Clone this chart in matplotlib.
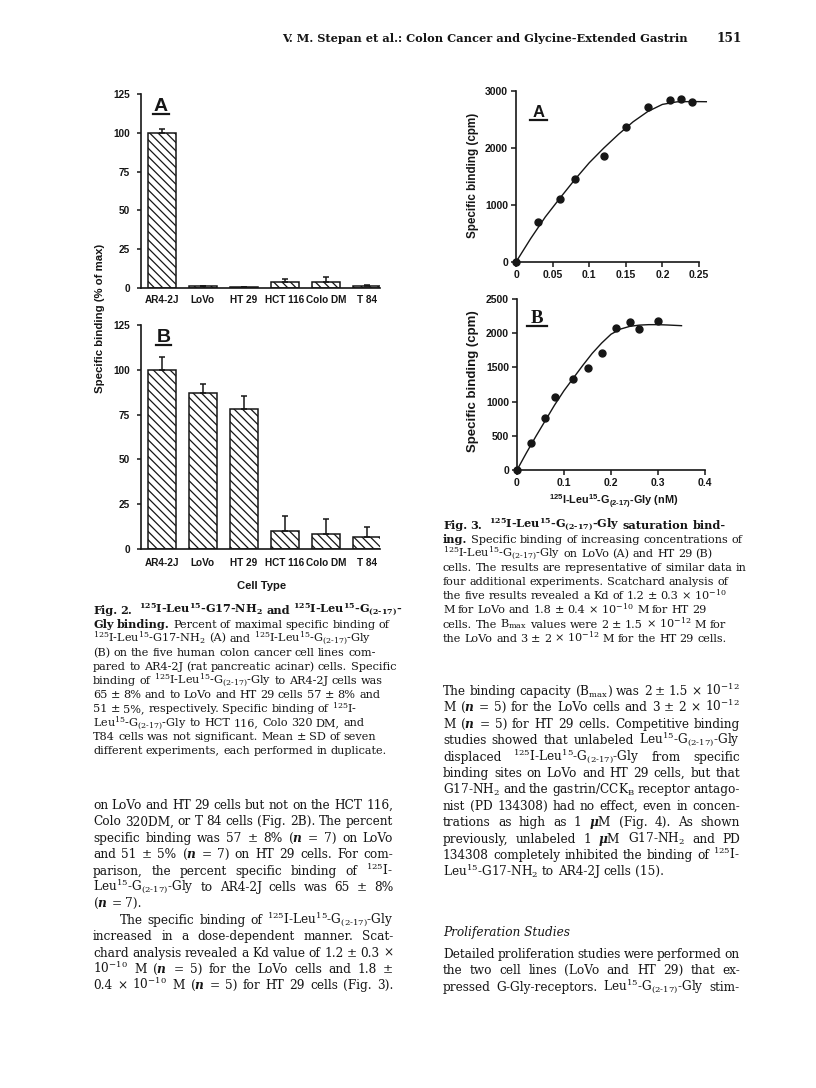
import matplotlib
matplotlib.use("Agg")
import matplotlib.pyplot as plt
from matplotlib.lines import Line2D

W, H = 816, 1088
INK = "#161616"
SERIF = "DejaVu Serif"

plt.rcParams["font.family"] = "Liberation Sans"
plt.rcParams["font.weight"] = "bold"
plt.rcParams["mathtext.fontset"] = "custom"
plt.rcParams["mathtext.rm"] = "DejaVu Serif"
plt.rcParams["mathtext.it"] = "DejaVu Serif:italic"
plt.rcParams["mathtext.bf"] = "DejaVu Serif:bold"
plt.rcParams["mathtext.default"] = "regular"
plt.rcParams["hatch.linewidth"] = 0.9

# ---- Fig. 2 data (percent of max specific binding) ----
cells = ["AR4-2J", "LoVo", "HT 29", "HCT 116", "Colo DM", "T 84"]
bind_a = [100, 1.0, 0.5, 3.9, 4.0, 1.2]
err_a = [2.5, 0, 0, 2.0, 3.0, 0.5]
bind_b = [100, 87, 78, 9.8, 8.4, 6.5]
err_b = [7.0, 5.0, 7.5, 8.5, 8.3, 6.0]
pct_ticks = [0, 25, 50, 75, 100, 125]

# ---- Fig. 3 data (saturation binding, cpm vs nM) ----
conc_lovo = [0, 0.03, 0.06, 0.08, 0.12, 0.15, 0.18, 0.21, 0.225, 0.24]
cpm_lovo = [0, 700, 1110, 1455, 1860, 2370, 2725, 2850, 2865, 2810]
fit_x_lovo = [0, 0.02, 0.04, 0.06, 0.08, 0.10, 0.12, 0.14, 0.16, 0.18, 0.20, 0.22, 0.24, 0.26]
fit_y_lovo = [0, 410, 790, 1120, 1440, 1740, 2000, 2240, 2460, 2640, 2765, 2810, 2815, 2812]

conc_ht29 = [0, 0.03, 0.06, 0.08, 0.12, 0.15, 0.18, 0.21, 0.24, 0.26, 0.30]
cpm_ht29 = [0, 395, 755, 1060, 1330, 1495, 1710, 2075, 2160, 2065, 2175]
fit_x_ht29 = [0, 0.02, 0.04, 0.06, 0.08, 0.10, 0.12, 0.14, 0.16, 0.18, 0.20, 0.22, 0.24, 0.26, 0.28, 0.30, 0.32, 0.35]
fit_y_ht29 = [0, 250, 490, 720, 950, 1160, 1345, 1530, 1705, 1855, 1985, 2060, 2100, 2118, 2125, 2125, 2120, 2110]

x_ticks_a = [0, 0.05, 0.1, 0.15, 0.2, 0.25]
x_labels_a = ["0", "0.05", "0.1", "0.15", "0.2", "0.25"]
y_ticks_a = [0, 1000, 2000, 3000]
x_ticks_b = [0, 0.1, 0.2, 0.3, 0.4]
x_labels_b = ["0", "0.1", "0.2", "0.3", "0.4"]
y_ticks_b = [0, 500, 1000, 1500, 2000, 2500]

PEP = "$^{125}$I-Leu$^{15}$-G$_{(2‐17)}$-Gly"
GG = "Leu$^{15}$-G$_{(2‐17)}$-Gly"
N = "$\\mathit{n}$"

header = "V. M. Stepan et al.: Colon Cancer and Glycine-Extended Gastrin"

cap2 = [
    "*Fig. *2.  *$^{125}$I-Leu$^{15}$-G17-NH$_2$ *and *$^{125}$I-Leu$^{15}$-G$_{(2‐17)}$-",
    "*Gly *binding. Percent of maximal specific binding of",
    "$^{125}$I-Leu$^{15}$-G17-NH$_2$ (A) and " + PEP,
    "(B) on the five human colon cancer cell lines com-",
    "pared to AR4-2J (rat pancreatic acinar) cells. Specific",
    "binding of " + PEP + " to AR4-2J cells was",
    "65 ± 8% and to LoVo and HT 29 cells 57 ± 8% and",
    "51 ± 5%, respectively. Specific binding of $^{125}$I-",
    GG + " to HCT 116, Colo 320 DM, and",
    "T84 cells was not significant. Mean ± SD of seven",
    "different experiments, each performed in duplicate.",
]

cap3 = [
    "*Fig. *3.  *" + PEP + " *saturation *bind-",
    "*ing. Specific binding of increasing concentrations of",
    PEP + " on LoVo (A) and HT 29 (B)",
    "cells. The results are representative of similar data in",
    "four additional experiments. Scatchard analysis of",
    "the five results revealed a Kd of 1.2 ± 0.3 × 10$^{-10}$",
    "M for LoVo and 1.8 ± 0.4 × 10$^{-10}$ M for HT 29",
    "cells. The B$_{max}$ values were 2 ± 1.5 × 10$^{-12}$ M for",
    "the LoVo and 3 ± 2 × 10$^{-12}$ M for the HT 29 cells.",
]

left_p1 = [
    "on LoVo and HT 29 cells but not on the HCT 116,",
    "Colo 320DM, or T 84 cells (Fig. 2B). The percent",
    "specific binding was 57 ± 8% (" + N + " = 7) on LoVo",
    "and 51 ± 5% (" + N + " = 7) on HT 29 cells. For com-",
    "parison, the percent specific binding of $^{125}$I-",
    GG + " to AR4-2J cells was 65 ± 8%",
    "(" + N + " = 7).",
]
left_p2 = [
    "The specific binding of " + PEP,
    "increased in a dose-dependent manner. Scat-",
    "chard analysis revealed a Kd value of 1.2 ± 0.3 ×",
    "10$^{-10}$ M (" + N + " = 5) for the LoVo cells and 1.8 ±",
    "0.4 × 10$^{-10}$ M (" + N + " = 5) for HT 29 cells (Fig. 3).",
]
right_p1 = [
    "The binding capacity (B$_{max}$) was 2 ± 1.5 × 10$^{-12}$",
    "M (" + N + " = 5) for the LoVo cells and 3 ± 2 × 10$^{-12}$",
    "M (" + N + " = 5) for HT 29 cells. Competitive binding",
    "studies showed that unlabeled " + GG,
    "displaced " + PEP + " from specific",
    "binding sites on LoVo and HT 29 cells, but that",
    "G17-NH$_2$ and the gastrin/CCK$_B$ receptor antago-",
    "nist (PD 134308) had no effect, even in concen-",
    "trations as high as 1 $\\mathit{\\mu}$M (Fig. 4). As shown",
    "previously, unlabeled 1 $\\mathit{\\mu}$M G17-NH$_2$ and PD",
    "134308 completely inhibited the binding of $^{125}$I-",
    "Leu$^{15}$-G17-NH$_2$ to AR4-2J cells (15).",
]
heading = "Proliferation Studies"
right_p2 = [
    "Detailed proliferation studies were performed on",
    "the two cell lines (LoVo and HT 29) that ex-",
    "pressed G-Gly-receptors. " + GG + " stim-",
]

fig = plt.figure(figsize=(W / 100, H / 100), dpi=100)
fig.patch.set_facecolor("white")
renderer = fig.canvas.get_renderer()


def px_axes(l, t, r, b):
    return fig.add_axes([l / W, 1 - b / H, (r - l) / W, (b - t) / H])


def ftext(x, y, s, **kw):
    return fig.text(x / W, 1 - y / H, s, color=INK, **kw)


def clean(ax):
    for s in ("top", "right"):
        ax.spines[s].set_visible(False)
    for s in ("left", "bottom"):
        ax.spines[s].set_linewidth(1.2)
        ax.spines[s].set_color(INK)
    ax.set_facecolor("none")


def bar_panel(ax, vals, errs, xpad):
    pos = list(range(len(cells)))
    ax.bar(pos, vals, 0.69, color="white", edgecolor=INK, linewidth=1.1,
           hatch="\\\\\\\\")
    ax.errorbar(pos, vals, yerr=[[0] * len(errs), errs], fmt="none",
                ecolor=INK, elinewidth=1.1, capsize=2.5, capthick=1.1)
    ax.set_xlim(-0.51, 5.32)
    ax.set_ylim(0, 125)
    ax.set_yticks(pct_ticks)
    ax.set_xticks(pos, cells)
    ax.tick_params(axis="x", length=0, pad=xpad, labelsize=7.2, colors=INK)
    ax.tick_params(axis="y", length=3, width=1.1, pad=4.9, labelsize=7.2, colors=INK)
    clean(ax)


def sat_panel(ax, xs, ys, fx, fy, xmax, ymax, xt, xl, yt):
    ax.plot(fx, fy, color=INK, lw=1.0, clip_on=False)
    ax.plot(xs, ys, "o", color=INK, ms=5, clip_on=False)
    ax.set_xlim(0, xmax)
    ax.set_ylim(0, ymax)
    ax.set_xticks(xt, xl)
    ax.set_yticks(yt, [str(v) for v in yt])
    ax.tick_params(length=3.5, width=1.1, pad=2.2, labelsize=7.5, colors=INK)
    clean(ax)


def letter(x, y, s, size, family, x0, x1, uy):
    ftext(x, y, s, fontsize=size, fontweight="bold", family=family,
          ha="center", va="baseline")
    fig.add_artist(Line2D([x0 / W, x1 / W], [1 - uy / H, 1 - uy / H],
                          color=INK, lw=1.6))


def words(ln, x0, x1, y, size, justify=True, style="normal"):
    toks = ln.split(" ")
    if justify:
        toks = [t for t in toks if t]
    objs = []
    for tk in toks:
        if not tk:
            objs.append(None)
            continue
        bold = tk.startswith("*")
        objs.append(ftext(0, y, tk[1:] if bold else tk, fontsize=size,
                          family=SERIF, style=style,
                          fontweight="bold" if bold else "normal", va="baseline"))
    wid = [o.get_window_extent(renderer).width if o else 0 for o in objs]
    gap = size * 100 / 72 * 0.3
    real = [o for o in objs if o]
    if justify and len(real) > 1:
        gap = max((x1 - x0 - sum(wid)) / (len(real) - 1), gap * 0.6)
    x = x0
    for o, w in zip(objs, wid):
        if o:
            o.set_x(x / W)
        x += w + gap


def block(lines, x0, x1, y0, step, size, justify=True, last_free=True, indent=0):
    for i, ln in enumerate(lines):
        free = (not justify) or (last_free and i == len(lines) - 1)
        words(ln, x0 + (indent if i == 0 else 0), x1, y0 + i * step, size,
              justify=not free)


# ---- Fig. 2 ----
ax2a = px_axes(141, 94, 380, 288)
bar_panel(ax2a, bind_a, err_a, 4.8)
ax2b = px_axes(141, 325, 380, 549)
bar_panel(ax2b, bind_b, err_b, 6.2)
letter(161, 111, "A", 14, "Liberation Sans", 153, 169, 114)
letter(163.5, 342, "B", 14, "Liberation Sans", 156, 171, 345)
ftext(100, 318, "Specific binding (% of max)", rotation=90, ha="center",
      va="center", fontsize=8.2)
ftext(262, 586, "Cell Type", ha="center", va="center", fontsize=8.1)

# ---- Fig. 3 ----
ax3a = px_axes(516, 91, 699, 262)
sat_panel(ax3a, conc_lovo, cpm_lovo, fit_x_lovo, fit_y_lovo, 0.25, 3000,
          x_ticks_a, x_labels_a, y_ticks_a)
ax3b = px_axes(517, 299, 705, 470)
sat_panel(ax3b, conc_ht29, cpm_ht29, fit_x_ht29, fit_y_ht29, 0.4, 2500,
          x_ticks_b, x_labels_b, y_ticks_b)
letter(538.5, 117, "A", 12, "Liberation Sans", 530, 547, 119.5)
letter(536.5, 323, "B", 13.5, "Liberation Serif", 527, 547, 326)
ftext(473, 175, "Specific binding (cpm)", rotation=90, ha="center",
      va="center", fontsize=8.4)
ftext(473, 381, "Specific binding (cpm)", rotation=90, ha="center",
      va="center", fontsize=9.5)
ftext(614, 502, PEP + " (nM)", ha="center", va="center", fontsize=7.8)

# ---- page text ----
ftext(688, 42, header, ha="right", va="baseline", fontsize=8.2,
      family=SERIF, fontweight="bold")
ftext(717, 42, "151", ha="left", va="baseline", fontsize=8.8,
      family=SERIF, fontweight="bold")

block(cap2, 93, 394, 613.5, 14.1, 8.1, justify=False)
block(cap3, 443, 740, 528.5, 14.15, 8.1, justify=False)

block(left_p1, 93, 393, 809, 16.4, 8.7)
block(left_p2, 93, 393, 809 + 7 * 16.4, 16.4, 8.7, last_free=False, indent=27)

block(right_p1, 443, 740, 695, 16.4, 8.7)
ftext(443, 936, heading, fontsize=8.7, family=SERIF,
      style="italic", fontweight="normal", va="baseline")
block(right_p2, 443, 740, 958, 16.4, 8.7, last_free=False)

fig.savefig("out.png", dpi=100, facecolor="white")
